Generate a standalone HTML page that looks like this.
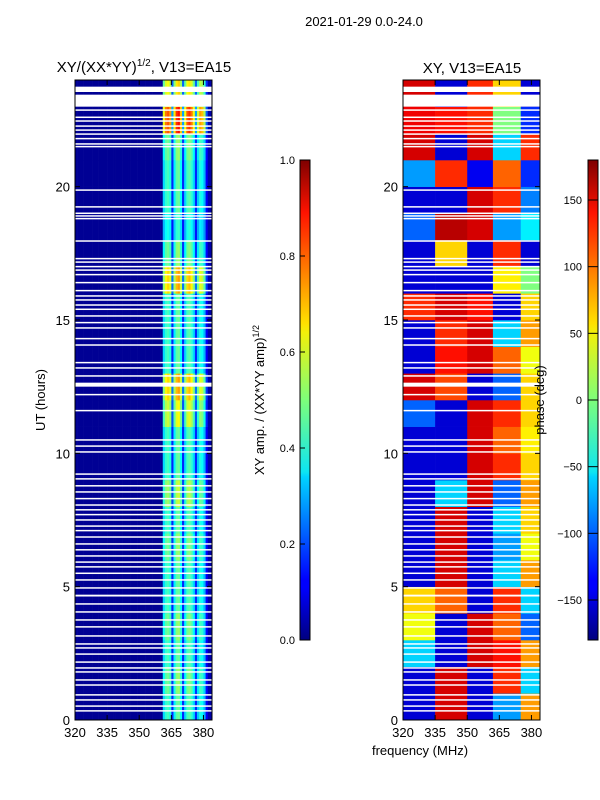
<!DOCTYPE html>
<html><head><meta charset="utf-8"><style>
body{margin:0;background:#fff;}
svg{display:block;font-family:"Liberation Sans",sans-serif;}
</style></head><body>
<svg id="fig" width="600" height="800" viewBox="0 0 600 800" xmlns="http://www.w3.org/2000/svg">
<defs>
<linearGradient id="jetg" x1="0" y1="1" x2="0" y2="0">
<stop offset="0" stop-color="#00007f"/><stop offset="0.11" stop-color="#0000ff"/><stop offset="0.125" stop-color="#0000ff"/><stop offset="0.34" stop-color="#00d4ff"/><stop offset="0.35" stop-color="#0de5f2"/><stop offset="0.5" stop-color="#7dff7a"/><stop offset="0.64" stop-color="#f2f00a"/><stop offset="0.66" stop-color="#ffe000"/><stop offset="0.89" stop-color="#ff1300"/><stop offset="1" stop-color="#7f0000"/>
</linearGradient>
</defs>
<text x="364" y="26" font-size="13" text-anchor="middle">2021-01-29 0.0-24.0</text>
<text x="144" y="72" font-size="15" text-anchor="middle">XY/(XX*YY)<tspan font-size="10" dy="-6">1/2</tspan><tspan dy="6">, V13=EA15</tspan></text>
<text x="472" y="73" font-size="15" text-anchor="middle">XY, V13=EA15</text>
<g id="leftHeat"></g>
<g id="rightHeat"></g>
<g id="axes"></g>
<text transform="translate(45,400) rotate(-90)" font-size="13" text-anchor="middle">UT (hours)</text>
<text x="420" y="755" font-size="13" text-anchor="middle">frequency (MHz)</text>
<rect x="300" y="160" width="10" height="480" fill="url(#jetg)" stroke="#000" stroke-width="1"/>
<rect x="588" y="160" width="10" height="480" fill="url(#jetg)" stroke="#000" stroke-width="1"/>
<text transform="translate(264,400) rotate(-90)" font-size="13" text-anchor="middle">XY amp. / (XX*YY amp)<tspan font-size="9" dy="-5">1/2</tspan></text>
<text transform="translate(544,400) rotate(-90)" font-size="13" text-anchor="middle">phase (deg)</text>
<g id="cbticks"></g>
</svg>
<script>
// ---- data ----
const freqMHz0 = 320, freqMHz1 = 384;
const xTicks = [320, 335, 350, 365, 380];
const yTicks = [0, 5, 10, 15, 20];
// left panel: amplitude profile per 1 MHz channel (320..383)
const ampProfile = [
 0.02,0.02,0.02,0.02,0.02,0.02,0.02,0.02,0.02,0.02,
 0.02,0.02,0.02,0.02,0.02,0.02,0.02,0.02,0.02,0.02,
 0.02,0.02,0.02,0.02,0.02,0.02,0.02,0.02,0.02,0.02,
 0.02,0.02,0.02,0.02,0.02,0.02,0.02,0.02,0.02,0.02,
 0.02,0.34,0.42,0.44,0.40,0.16,0.36,0.46,0.48,0.38,
 0.16,0.34,0.44,0.46,0.42,0.34,0.16,0.32,0.40,0.38,
 0.30,0.12,0.04,0.04];
// per-hour gain (hour 0..23)
const ampGain = [1.0,1.1,1.0,1.1,1.0,1.0,1.1,1.0,1.2,1.0,1.0,1.3,1.5,1.0,1.0,1.0,1.5,1.1,0.9,1.0,1.0,1.1,1.8,1.4];
// right panel: phase (deg) per hour row x frequency block
const phaseBlocks = [320, 335, 350, 362, 375, 384];
const phaseRows = [
 [-150,150,-150,-80,80],[-150,150,-150,120,-60],[-60,-150,150,130,80],[40,-150,150,100,-100],
 [60,100,-150,120,-60],[-150,150,-150,-60,80],[-150,150,-150,-80,40],[-150,150,-150,-60,60],
 [-150,-60,150,-100,80],[-150,-150,150,120,60],[-150,-150,150,100,50],[-100,-150,150,120,60],
 [150,110,-150,-100,60],[-150,130,150,100,40],[-150,120,150,-60,80],[120,150,130,-150,60],
 [-150,-150,-150,50,0],[-150,60,-150,120,-150],[-100,160,150,-80,-50],[-150,-150,150,120,-90],
 [-80,120,-140,100,-120],[150,-150,150,-60,120],[140,130,120,0,-120],[150,-150,120,60,-150]];
// flagged (blank) time ranges in hours
const blanks = [[23.0,23.45],[23.55,23.75],[22.85,22.9],[22.58,22.63],[22.44,22.49],[22.25,22.3],[22.1,22.15],[21.95,22.0],[21.78,21.83],[21.58,21.63],[21.48,21.53],
 [19.85,19.9],[19.22,19.27],[18.98,19.03],[18.88,18.93],[18.78,18.83],[17.94,17.99],[17.28,17.33],[17.15,17.2],[16.98,17.03],[16.85,16.9],[16.68,16.73],[16.38,16.43],[16.08,16.13],[15.88,15.93],[15.73,15.78],[15.54,15.59],[15.38,15.43],[15.13,15.18],[14.88,14.93],[14.68,14.73],[14.28,14.33],[14.04,14.09],
 [13.38,13.43],[13.18,13.23],[12.88,12.93],[12.5,12.65],[12.18,12.23],[11.58,11.63],[10.48,10.53],[10.25,10.3],[10.03,10.08],
 [9.2,9.25],[9.02,9.07],[8.76,8.81],[8.53,8.58],[8.28,8.33],[8.04,8.09],[7.86,7.91],[7.68,7.73],[7.48,7.53],[7.25,7.3],[7.08,7.13],[6.84,6.89],[6.58,6.63],[6.36,6.41],[6.13,6.18],[5.9,5.95],[5.72,5.77],[5.48,5.53],[5.23,5.28],[4.93,4.98],[4.63,4.7],[4.33,4.38],[4.03,4.08],[3.73,3.78],[3.47,3.52],[3.13,3.18],[2.83,2.88],[2.68,2.73],[2.45,2.5],[2.15,2.2],[1.93,1.98],[1.78,1.83],[1.48,1.53],[1.29,1.34],[0.92,0.97],[0.73,0.78],[0.5,0.55],[0.32,0.37]];
const ampTicks = [0.0,0.2,0.4,0.6,0.8,1.0];
const phaseTicks = [-150,-100,-50,0,50,100,150];

// ---- helpers ----
const NS = "http://www.w3.org/2000/svg";
const panels = {L:75, R:403};
const PW = 137, TOP = 80, BOT = 720;
function xs(f, x0){ return x0 + (f - freqMHz0) / (freqMHz1 - freqMHz0) * PW; }
function ys(h){ return BOT - h / 24 * (BOT - TOP); }
function jet(v){
  v = Math.max(0, Math.min(1, v));
  const r = Math.max(0, Math.min(1, 1.5 - Math.abs(4*v - 3)));
  const g = Math.max(0, Math.min(1, 1.5 - Math.abs(4*v - 2)));
  const b = Math.max(0, Math.min(1, 1.5 - Math.abs(4*v - 1)));
  return `rgb(${Math.round(r*255)},${Math.round(g*255)},${Math.round(b*255)})`;
}
function mk(tag, attrs, parent){
  const e = document.createElementNS(NS, tag);
  for (const k in attrs) e.setAttribute(k, attrs[k]);
  parent.appendChild(e); return e;
}
const L = document.getElementById('leftHeat');
const R = document.getElementById('rightHeat');
// left heatmap
for (let h = 0; h < 24; h++) {
  for (let c = 0; c < ampProfile.length; c++) {
    const v = ampProfile[c] > 0.1 ? ampProfile[c] * ampGain[h] : ampProfile[c];
    const x0 = xs(freqMHz0 + c, panels.L), x1 = xs(freqMHz0 + c + 1, panels.L);
    const r = mk('rect', {x:x0, y:ys(h+1), width:x1-x0+0.3, height:ys(h)-ys(h+1)+0.3, fill:jet(v)}, L);
    
    
  }
}
// right heatmap
for (let h = 0; h < 24; h++) {
  for (let b = 0; b < phaseBlocks.length - 1; b++) {
    const x0 = xs(phaseBlocks[b], panels.R), x1 = xs(phaseBlocks[b+1], panels.R);
    const r = mk('rect', {x:x0, y:ys(h+1), width:x1-x0+0.3, height:ys(h)-ys(h+1)+0.3, fill:jet((phaseRows[h][b]+180)/360)}, R);
    
    
  }
}
// blanks
for (const [a, b] of blanks) {
  for (const x0 of [panels.L, panels.R]) {
    const r = mk('rect', {x:x0, y:ys(b), width:PW, height:Math.max(1.5, ys(a)-ys(b)), fill:'#fff'}, x0===panels.L?L:R);
    
    
  }
}
// axes
const A = document.getElementById('axes');
for (const x0 of [panels.L, panels.R]) {
  const fr = mk('rect', {x:x0, y:TOP, width:PW, height:BOT-TOP, fill:'none', stroke:'#000', 'stroke-width':1}, A);
  
  
  for (const t of xTicks) {
    const x = xs(t, x0);
    mk('line', {x1:x, x2:x, y1:BOT, y2:BOT-5, stroke:'#000'}, A);
    mk('line', {x1:x, x2:x, y1:TOP, y2:TOP+5, stroke:'#000'}, A);
    const tx = mk('text', {x:x, y:BOT+17, 'font-size':13, 'text-anchor':'middle'}, A);
    tx.textContent = t;
    
    
  }
  for (const t of yTicks) {
    const y = ys(t);
    mk('line', {x1:x0, x2:x0+5, y1:y, y2:y, stroke:'#000'}, A);
    mk('line', {x1:x0+PW, x2:x0+PW-5, y1:y, y2:y, stroke:'#000'}, A);
    const ty = mk('text', {x:x0-5, y:y+5, 'font-size':13, 'text-anchor':'end'}, A);
    ty.textContent = t;
    
    
  }
}
// colorbar ticks
const C = document.getElementById('cbticks');
for (const t of ampTicks) {
  const y = 640 - t * 480;
  mk('line', {x1:300, x2:305, y1:y, y2:y, stroke:'#000'}, C);
  const tx = mk('text', {x:295, y:y+4, 'font-size':11, 'text-anchor':'end'}, C);
  tx.textContent = t.toFixed(1);
  
  
}
for (const t of phaseTicks) {
  const y = 640 - (t + 180) / 360 * 480;
  mk('line', {x1:588, x2:598, y1:y, y2:y, stroke:'#000'}, C);
  const tx = mk('text', {x:582, y:y+4, 'font-size':11, 'text-anchor':'end'}, C);
  tx.textContent = t < 0 ? '\u2212' + Math.abs(t) : t;
  
  
}
</script>
</body></html>
